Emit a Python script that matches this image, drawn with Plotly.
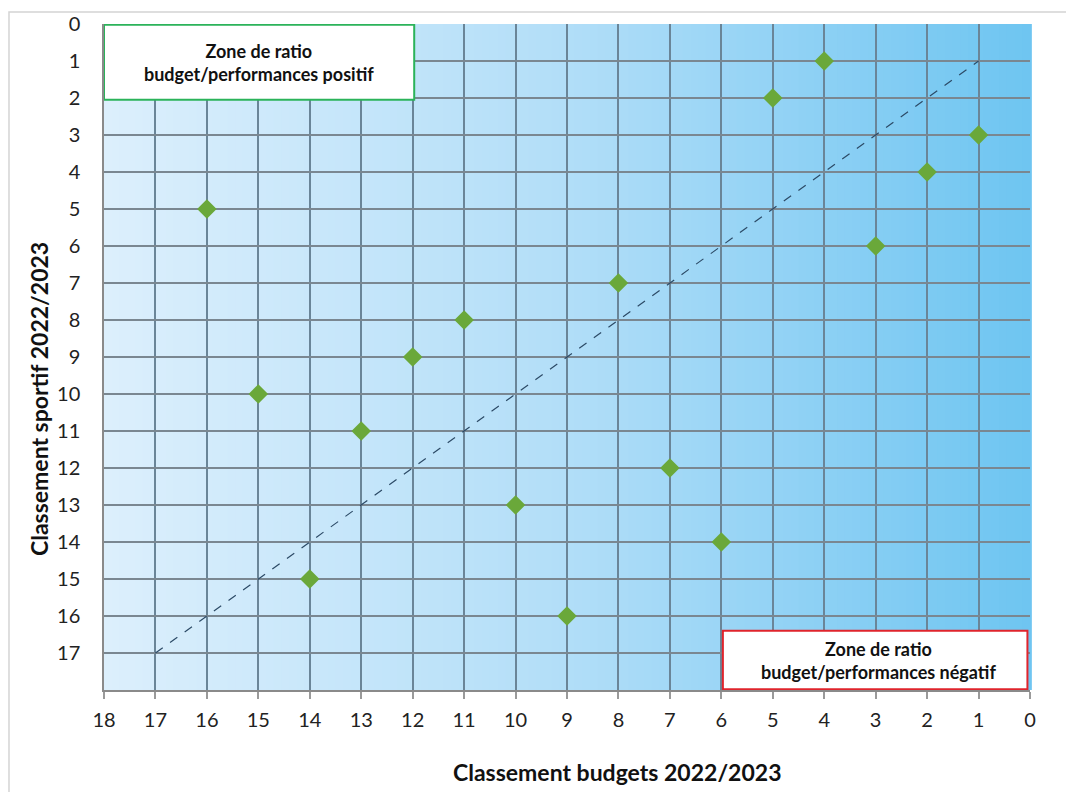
import plotly.graph_objects as go

# Data
budget_rank = [16, 15, 14, 13, 12, 11, 10, 9, 8, 7, 6, 5, 4, 3, 2, 1]
sport_rank = [5, 10, 15, 11, 9, 8, 13, 16, 7, 12, 14, 2, 1, 6, 4, 3]
diag_x = [17, 1]
diag_y = [17, 1]
x_ticks = list(range(0, 19))
y_ticks = list(range(0, 18))

FONT = "Lato"

fig = go.Figure()

# background gradient (style only)
def lerp(c1, c2, t):
    return tuple(int(round(a + (b - a) * t)) for a, b in zip(c1, c2))

stops = [(0.0, (220, 239, 252)), (0.5, (178, 222, 248)), (1.0, (110, 197, 241))]
def col(t):
    for (t0, c0), (t1, c1) in zip(stops[:-1], stops[1:]):
        if t <= t1:
            return lerp(c0, c1, (t - t0) / (t1 - t0))
    return stops[-1][1]

N = 120
shapes = []
for i in range(N):
    t = (i + 0.5) / N
    c = col(t)
    shapes.append(dict(type="rect", xref="paper", yref="paper",
                       x0=i / N, x1=(i + 1) / N + 0.002, y0=0, y1=1,
                       fillcolor="rgb(%d,%d,%d)" % c, line=dict(width=0),
                       layer="below"))

# outer frame
shapes.append(dict(type="rect", xref="paper", yref="paper",
                   x0=-0.1026, x1=1.06, y0=-0.17, y1=1.018,
                   line=dict(color="#d4d4d4", width=1.5), fillcolor="rgba(0,0,0,0)",
                   layer="below"))

# zone boxes
shapes.append(dict(type="rect", xref="x", yref="y", x0=18, x1=11.97, y0=0.02, y1=2.05,
                   fillcolor="white", line=dict(color="#2bb35a", width=2), layer="above"))
shapes.append(dict(type="rect", xref="x", yref="y", x0=5.97, x1=0.05, y0=16.4, y1=17.98,
                   fillcolor="white", line=dict(color="#e0242c", width=2), layer="above"))

fig.add_trace(go.Scatter(x=diag_x, y=diag_y, mode="lines",
                         line=dict(color="#2c4a66", width=1.2, dash="dash"),
                         hoverinfo="skip", showlegend=False))
fig.add_trace(go.Scatter(x=budget_rank, y=sport_rank, mode="markers",
                         marker=dict(symbol="diamond", size=15, color="#6aa83a"),
                         showlegend=False))

annotations = [
    dict(x=14.98, y=1.03, xref="x", yref="y",
         text="<b>Zone de ratio<br>budget/performances positif</b>",
         showarrow=False, font=dict(family=FONT, size=18, color="#111"), align="center"),
    dict(x=2.95, y=17.2, xref="x", yref="y",
         text="<b>Zone de ratio<br>budget/performances négatif</b>",
         showarrow=False, font=dict(family=FONT, size=18, color="#111"), align="center"),
    dict(x=(617 - 104) / 926, y=(690 - 772) / 666, xref="paper", yref="paper",
         text="<b>Classement budgets 2022/2023</b>", showarrow=False,
         font=dict(family=FONT, size=23, color="#111"), xanchor="center", yanchor="middle"),
    dict(x=(39 - 104) / 926, y=(690 - 399) / 666, xref="paper", yref="paper",
         text="<b>Classement sportif 2022/2023</b>", showarrow=False, textangle=-90,
         font=dict(family=FONT, size=23, color="#111"), xanchor="center", yanchor="middle"),
]

fig.update_layout(
    width=1066, height=784,
    margin=dict(l=96, r=44, t=16, b=102),
    paper_bgcolor="white", plot_bgcolor="rgba(0,0,0,0)",
    shapes=shapes, annotations=annotations,
    font=dict(family=FONT, size=20, color="#222"),
)
fig.update_xaxes(range=[18, 0], tickvals=x_ticks, ticktext=[str(v) for v in x_ticks],
                 showgrid=True, gridcolor="#6a8598", gridwidth=1.8,
                 ticks="outside", ticklen=7, tickcolor="#9a9a9a", tickwidth=1.5,
                 ticklabelstandoff=4, zeroline=False, automargin=False,
                 showline=True, linecolor="#8a8a8a", linewidth=1.5)
fig.update_yaxes(range=[18, 0], tickvals=y_ticks, ticktext=[str(v) for v in y_ticks],
                 showgrid=True, gridcolor="#7a8791", gridwidth=1.8,
                 ticks="", ticklabelstandoff=18, zeroline=False, automargin=False,
                 showline=True, linecolor="#8a8a8a", linewidth=1.5)

fig.write_html("out.html")
